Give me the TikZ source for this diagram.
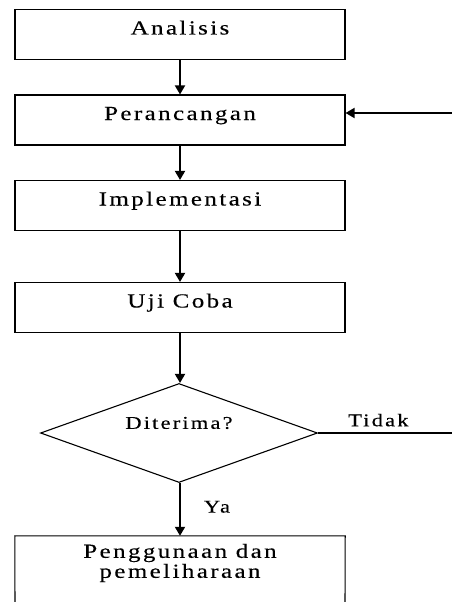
\documentclass[tikz,border=0pt]{standalone}
\usepackage{fontspec}
\setmainfont{Liberation Serif}
\newfontfamily\lsfont[LetterSpace=12,FakeStretch=1.25,FakeBold=0.3]{Liberation Serif}
\usetikzlibrary{shapes.geometric,arrows.meta}
\begin{document}
\begin{tikzpicture}[x=1pt,y=-1pt,
  stepbox/.style={draw, line width=1.1pt, minimum width=330pt, minimum height=50pt,
    inner sep=0pt, font=\lsfont\fontsize{20}{20}\selectfont, text height=14pt, text depth=14pt},
  decision/.style={diamond, draw, line width=1.1pt, minimum width=277pt, minimum height=99pt, inner sep=0pt},
  flow/.style={line width=1.8pt, -{Triangle[length=9pt,width=10pt]}},
  plain/.style={line width=1.1pt},
  lbl/.style={font=\lsfont\fontsize{18}{18}\selectfont, inner sep=0pt}]
\useasboundingbox (0,0) rectangle (452,602);
\node[stepbox] (a) at (180,34.5) {Analisis};
\node[stepbox] (p) at (180,120) {Perancangan};
\node[stepbox] (i) at (180,205.5) {Implementasi};
\node[stepbox] (u) at (180,307.5) {Uji Coba};
\node[decision, label={[lbl, yshift=10pt]center:Diterima?}] (d) at (179,433) {};
\node[inner sep=0pt, minimum width=330pt, minimum height=54pt, align=center,
  font=\lsfont\fontsize{20}{20}\selectfont] (g) at (180,563) {Penggunaan dan\\pemeliharaan};
\coordinate (gbl) at (15,610);
\coordinate (gbr) at (345,610);
\draw[plain] (gbl) -- (g.north west) -- (g.north east) -- (gbr);
\coordinate (fb) at (452,113);
\coordinate (tend) at (452,433);
\draw[flow] (a) -- (p);
\draw[flow] (p) -- (i);
\draw[flow] (i) -- (u);
\draw[flow] (u.south) -- (u.south |- d.north);
\draw[flow] (d.south -| u.south) -- (g.north -| u.south) node[lbl, pos=0.45, right=23pt] (ya) {Ya};
\draw[plain] (d.east) -- (tend) node[lbl, pos=0.45, above=6pt] (tidak) {Tidak};
\draw[flow] (fb) -- (fb -| p.east);
\end{tikzpicture}
\end{document}
